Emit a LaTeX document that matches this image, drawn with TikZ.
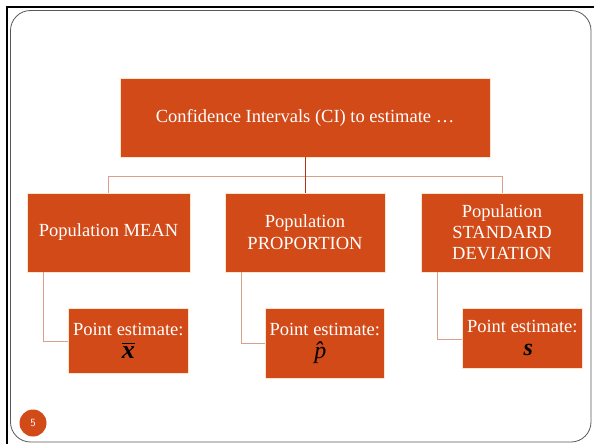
\documentclass[tikz,border=0pt]{standalone}
\usepackage{fontspec}
\setmainfont{Liberation Serif}
\usepackage{amsmath}
\begin{document}
\begin{tikzpicture}[x=1pt,y=-1pt,
  box/.style={draw=white!80!orange, line width=0.6pt, fill=boxc, text=white, inner sep=0pt, align=center, font=\fontsize{18.5}{22}\selectfont},
  est/.style={box, anchor=north west, font=\fontsize{18.5}{22}\selectfont},
  conn/.style={draw=linec, line width=1pt}]
\definecolor{boxc}{RGB}{210,74,24}
\definecolor{linec}{RGB}{218,160,140}
\definecolor{darkline}{RGB}{180,50,20}
\useasboundingbox (0,0) rectangle (594,444);
\fill[white] (0,0) rectangle (594,444);
\draw[black, line width=2.2pt] (7,450) -- (7,7) -- (600,7);
\draw[gray!70!black, line width=0.8pt, rounded corners=20pt] (10.5,10.5) rectangle (591,442);
% top
\node[box, minimum width=370pt, minimum height=79pt] (top) at (305,117.5) {Confidence Intervals (CI) to estimate \dots};
% middle
\node[box, minimum width=163pt, minimum height=79pt] (mean) at (108.5,232.5) {Population MEAN};
\node[box, minimum width=160pt, minimum height=79pt] (prop) at (305,232.5) {Population\\PROPORTION};
\node[box, minimum width=162pt, minimum height=79pt, font=\fontsize{18.5}{21}\selectfont] (sd) at (502,232.5) {Population\\STANDARD\\DEVIATION};
% bottom
\node[est, minimum width=120pt, minimum height=65pt] (pm) at (68,308) {Point estimate:\\[1pt]{\color{black}\fontsize{26}{26}\selectfont$\overline{\text{\textbf{\textit{x}}}}$}};
\node[est, minimum width=119pt, minimum height=70pt] (pp) at (265,308) {Point estimate:\\[1pt]{\color{black}\fontsize{24}{24}\selectfont\textit{\^{p}}}};
\node[est, minimum width=120pt, minimum height=60pt] (ps) at (462,308) {Point estimate:\\[1pt]\hspace*{12pt}{\color{black}\fontsize{24}{24}\selectfont\textbf{\textit{s}}}};
% connectors
\draw[conn] (mean.north) -- (108.5,176) -- (502,176) -- (sd.north);
\draw[draw=darkline, line width=1pt] (top.south) -- (prop.north);
\draw[conn] (43,272) -- (43,341) -- (pm.west |- 0,341);
\draw[conn] (241,272) -- (241,343) -- (pp.west |- 0,343);
\draw[conn] (437,272) -- (437,339) -- (ps.west |- 0,339);
% page number
\node[circle, fill=boxc, minimum size=27pt, inner sep=0pt, text=white, font=\sffamily\fontsize{11}{11}\selectfont] (pg) at (33,423) {5};
\end{tikzpicture}
\end{document}
